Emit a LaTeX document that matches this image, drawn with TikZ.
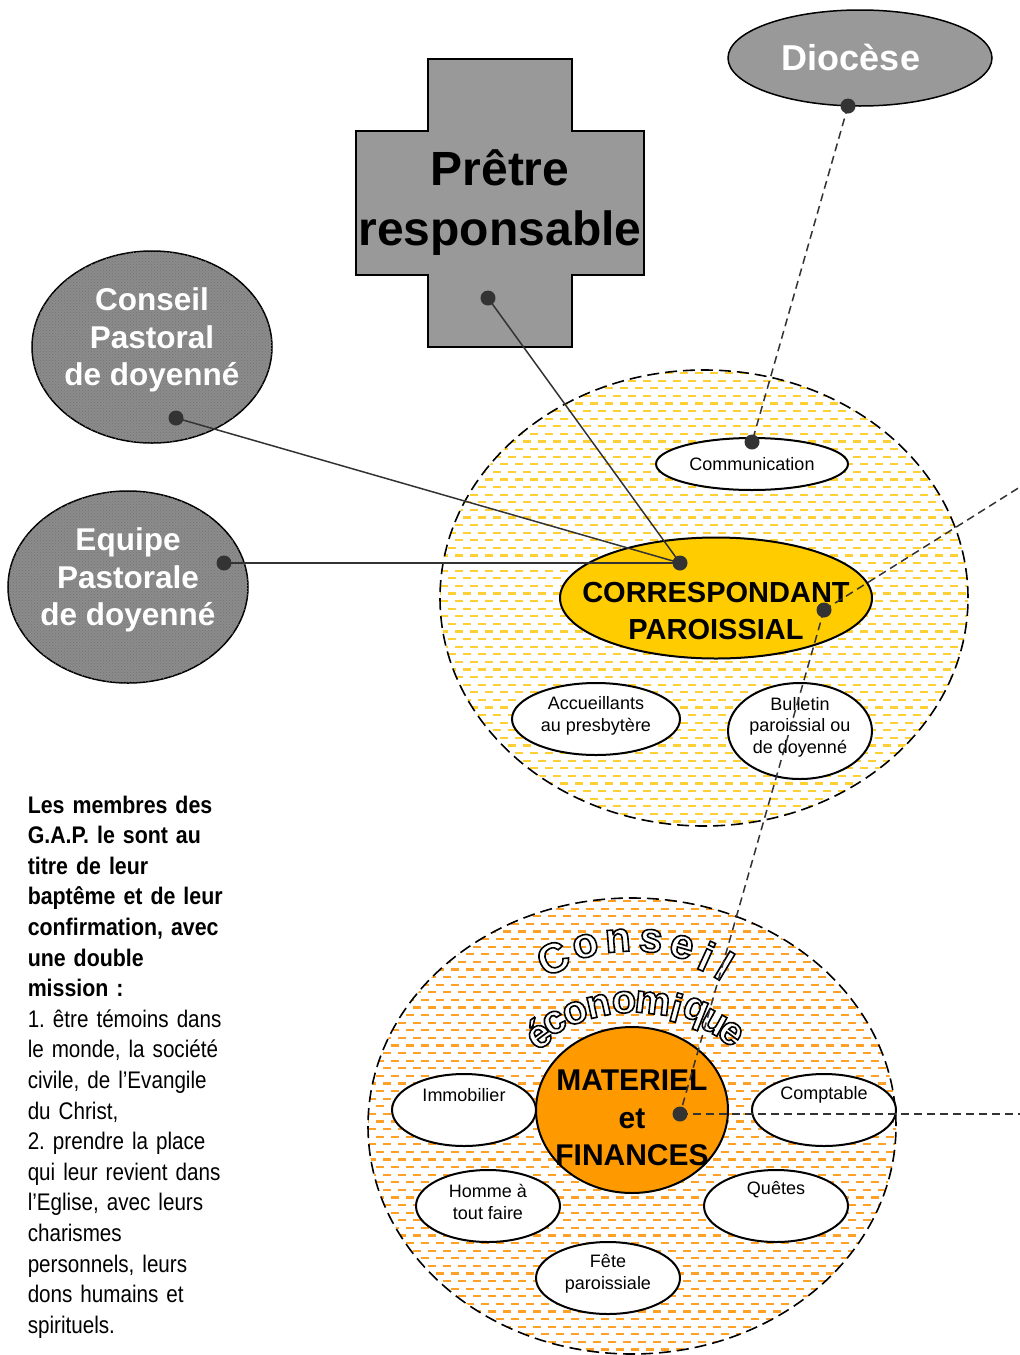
\documentclass[tikz,border=0pt]{standalone}
\usepackage{fontspec}
\setmainfont{Liberation Sans}
\newfontfamily\narrowfont[FakeStretch=0.86, BoldFeatures={FakeStretch=0.89}]{Liberation Sans}
\usetikzlibrary{shapes.geometric,patterns,calc}

\definecolor{boxgray}{HTML}{999999}
\definecolor{dotgray}{HTML}{333333}
\definecolor{hatchgray}{HTML}{8C8C8C}
\definecolor{cpyellow}{HTML}{FFCC00}
\definecolor{mforange}{HTML}{FF9900}
\definecolor{rowyellow}{HTML}{FFD033}
\definecolor{roworange}{HTML}{FFA126}

% outlined letters: white fill, black stroke
\newcommand\outlined[1]{\special{pdf:literal direct 0 G 2 Tr 1.6 w}#1\special{pdf:literal direct 0 Tr}}

\tikzset{every picture/.style={line width=1.5pt}}
\tikzset{
  zone/.style={ellipse, draw=black, line width=1.6pt, dash pattern=on 12pt off 6pt,
    minimum width=528pt, minimum height=456pt, inner sep=0pt,
    path picture={\foreach \k [evaluate=\k as \ph using {7.5*mod(\k,2)}] in {0,...,60}
      \draw[#1, line width=2.2pt, dash pattern=on 8pt off 7pt, dash phase=\ph pt]
        ([yshift=-\k*7.6pt-3pt]path picture bounding box.north west)
        -- ([yshift=-\k*7.6pt-3pt]path picture bounding box.north east);}},
  grayblob/.style={ellipse, draw=black, line width=1.5pt, fill=boxgray, inner sep=0pt,
    text=white, align=center, font=\bfseries\fontsize{36}{38}\selectfont},
  hatchblob/.style={ellipse, draw=black, line width=1.5pt, fill=hatchgray,
    postaction={pattern=crosshatch dots, pattern color=black!55},
    minimum width=240pt, minimum height=192pt, inner sep=0pt},
  blobtxt/.style={inner sep=0pt, text=white, align=center,
    font=\bfseries\fontsize{31.5}{37.5}\selectfont},
  smallell/.style={ellipse, draw=black, line width=2pt, fill=white, inner sep=0pt,
    minimum width=144pt, minimum height=72pt, align=center,
    font=\fontsize{18}{21.5}\selectfont},
  smalltxt/.style={inner sep=0pt, align=center, font=\fontsize{18}{21.5}\selectfont},
  bigtxt/.style={inner sep=0pt, align=center, font=\bfseries\fontsize{29}{37.5}\selectfont},
  archletter/.style={inner sep=0pt, text=white, font=\bfseries\fontsize{42}{42}\selectfont},
  link/.style={draw=dotgray, line width=1.5pt},
  dashlink/.style={draw=dotgray, line width=1.5pt, dash pattern=on 8pt off 5pt},
  dot/.style={fill=dotgray}
}

\begin{document}
\frenchspacing
\begin{tikzpicture}[x=1pt,y=-1pt]
\useasboundingbox (0,0) rectangle (1020,1355);

% zones
\node[zone=rowyellow] (cp-zone) at (704,598) {};
\node[zone=roworange] (ce-zone) at (632,1126) {};

% correspondant paroissial
\node[ellipse, draw=black, line width=2pt, fill=cpyellow, minimum width=312pt,
  minimum height=121pt] (corr) at (716,598) {};
\node[bigtxt] (corr-t) at (716,611) {CORRESPONDANT\\PAROISSIAL};
\node[smallell, minimum width=192pt, minimum height=52pt] (comm) at (752,464) {Communication};
\node[smallell, minimum width=168pt] (accueil) at (596,719) {};
\node[smalltxt] (accueil-t) at (596,716) {Accueillants\\au presbytère};
\node[smallell, minimum height=96pt] (bulletin) at (800,731) {};
\node[smalltxt] (bulletin-t) at (800,727) {Bulletin\\paroissial ou\\de doyenné};

% conseil economique
\node[ellipse, draw=black, line width=2pt, fill=mforange, minimum width=192pt,
  minimum height=166pt] (mf) at (632,1110) {};
\coordinate (arc-c) at (632,1120);
\coordinate (arc-e) at (634,1166);
\foreach \ch/\ang [count=\i] in {C/116,o/105,n/94.5,s/84,e/74,i/65.5,l/59}
  \node[archletter, rotate=\ang-90] (cons-\i) at ($(arc-c)+(-\ang:180)$) {\outlined{\ch}};
\foreach \ch/\ang [count=\i] in {é/126,c/119,o/111,n/102.5,o/93.5,m/83.5,i/75,q/68.5,u/61,e/54}
  \node[archletter, font=\bfseries\fontsize{40}{40}\selectfont, rotate=\ang-90] (eco-\i)
    at ($(arc-e)+(-\ang:164)$) {\outlined{\ch}};

\node[bigtxt, font=\bfseries\fontsize{30}{37.5}\selectfont] (mf-t) at (632,1118) {MATERIEL\\et\\FINANCES};
\node[smallell] (immo) at (464,1110) {};
\node[smalltxt] (immo-t) at (464,1095) {Immobilier};
\node[smallell] (compta) at (824,1110) {};
\node[smalltxt] (compta-t) at (824,1095) {Comptable};
\node[smallell] (homme) at (488,1206) {};
\node[smalltxt] (homme-t) at (488,1202) {Homme à\\tout faire};
\node[smallell] (quetes) at (776,1206) {};
\node[smalltxt] (quetes-t) at (776,1190) {Quêtes};
\node[smallell] (fete) at (608,1278) {};
\node[smalltxt] (fete-t) at (608,1274) {Fête\\paroissiale};

% pretre, diocese, doyenne
\draw[fill=boxgray, draw=black, line width=1.5pt] (428,59) -- (572,59) -- (572,131) -- (644,131)
  -- (644,275) -- (572,275) -- (572,347) -- (428,347) -- (428,275) -- (356,275)
  -- (356,131) -- (428,131) -- cycle;
\node[inner sep=0pt, align=center, font=\bfseries\fontsize{48}{60}\selectfont] (pretre) at (500,203) {Prêtre\\responsable};
\node[grayblob, minimum width=264pt, minimum height=96pt] (diocese) at (860,58) {};
\node[inner sep=0pt, text=white, font=\bfseries\fontsize{36}{38}\selectfont] (diocese-t) at (851,57) {Diocèse};
\node[hatchblob] (cpd) at (152,347) {};
\node[blobtxt] (cpd-t) at (152,340) {Conseil\\Pastoral\\de doyenné};
\node[hatchblob] (epd) at (128,587) {};
\node[blobtxt] (epd-t) at (128,580) {Equipe\\Pastorale\\de doyenné};

% note
\node[anchor=north west, inner sep=0pt, text width=230pt, align=left,
  font=\narrowfont\fontsize{24}{30.6}\selectfont] (note) at (27,795)
  {\bfseries Les membres des\\ G.A.P. le sont au\\ titre de leur\\ baptême et de leur\\
   confirmation, avec\\ une double\\ mission :\\ \mdseries 1. être témoins dans\\
   le monde, la société\\ civile, de l’Evangile\\ du Christ,\\ 2. prendre la place\\
   qui leur revient dans\\ l’Eglise, avec leurs\\ charismes\\ personnels, leurs\\
   dons humains et\\ spirituels.};

% links
\coordinate (pretre-dot) at (488,298);
\coordinate (diocese-dot) at (848,106);
\coordinate (cpd-dot) at (176,418);
\coordinate (epd-dot) at (224,563);
\coordinate (corr-in) at (680,563);
\coordinate (corr-out) at (824,610);
\coordinate (comm-dot) at (752,442);
\coordinate (mf-dot) at (680,1114);
\coordinate (exit-ne) at (1020,487);
\coordinate (exit-e) at (1020,1114);
\draw[link] (cpd-dot) -- (corr-in);
\draw[link] (epd-dot) -- (corr-in);
\draw[link] (pretre-dot) -- (corr-in);
\draw[dashlink] (diocese-dot) -- (comm-dot);
\draw[dashlink] (corr-out) -- (exit-ne);
\draw[dashlink] (corr-out) -- (mf-dot);
\draw[dashlink] (mf-dot) -- (exit-e);
\foreach \p in {pretre-dot,diocese-dot,cpd-dot,epd-dot,corr-in,corr-out,comm-dot,mf-dot}
  \fill[dot] (\p) circle (7.5pt);
\end{tikzpicture}
\end{document}
